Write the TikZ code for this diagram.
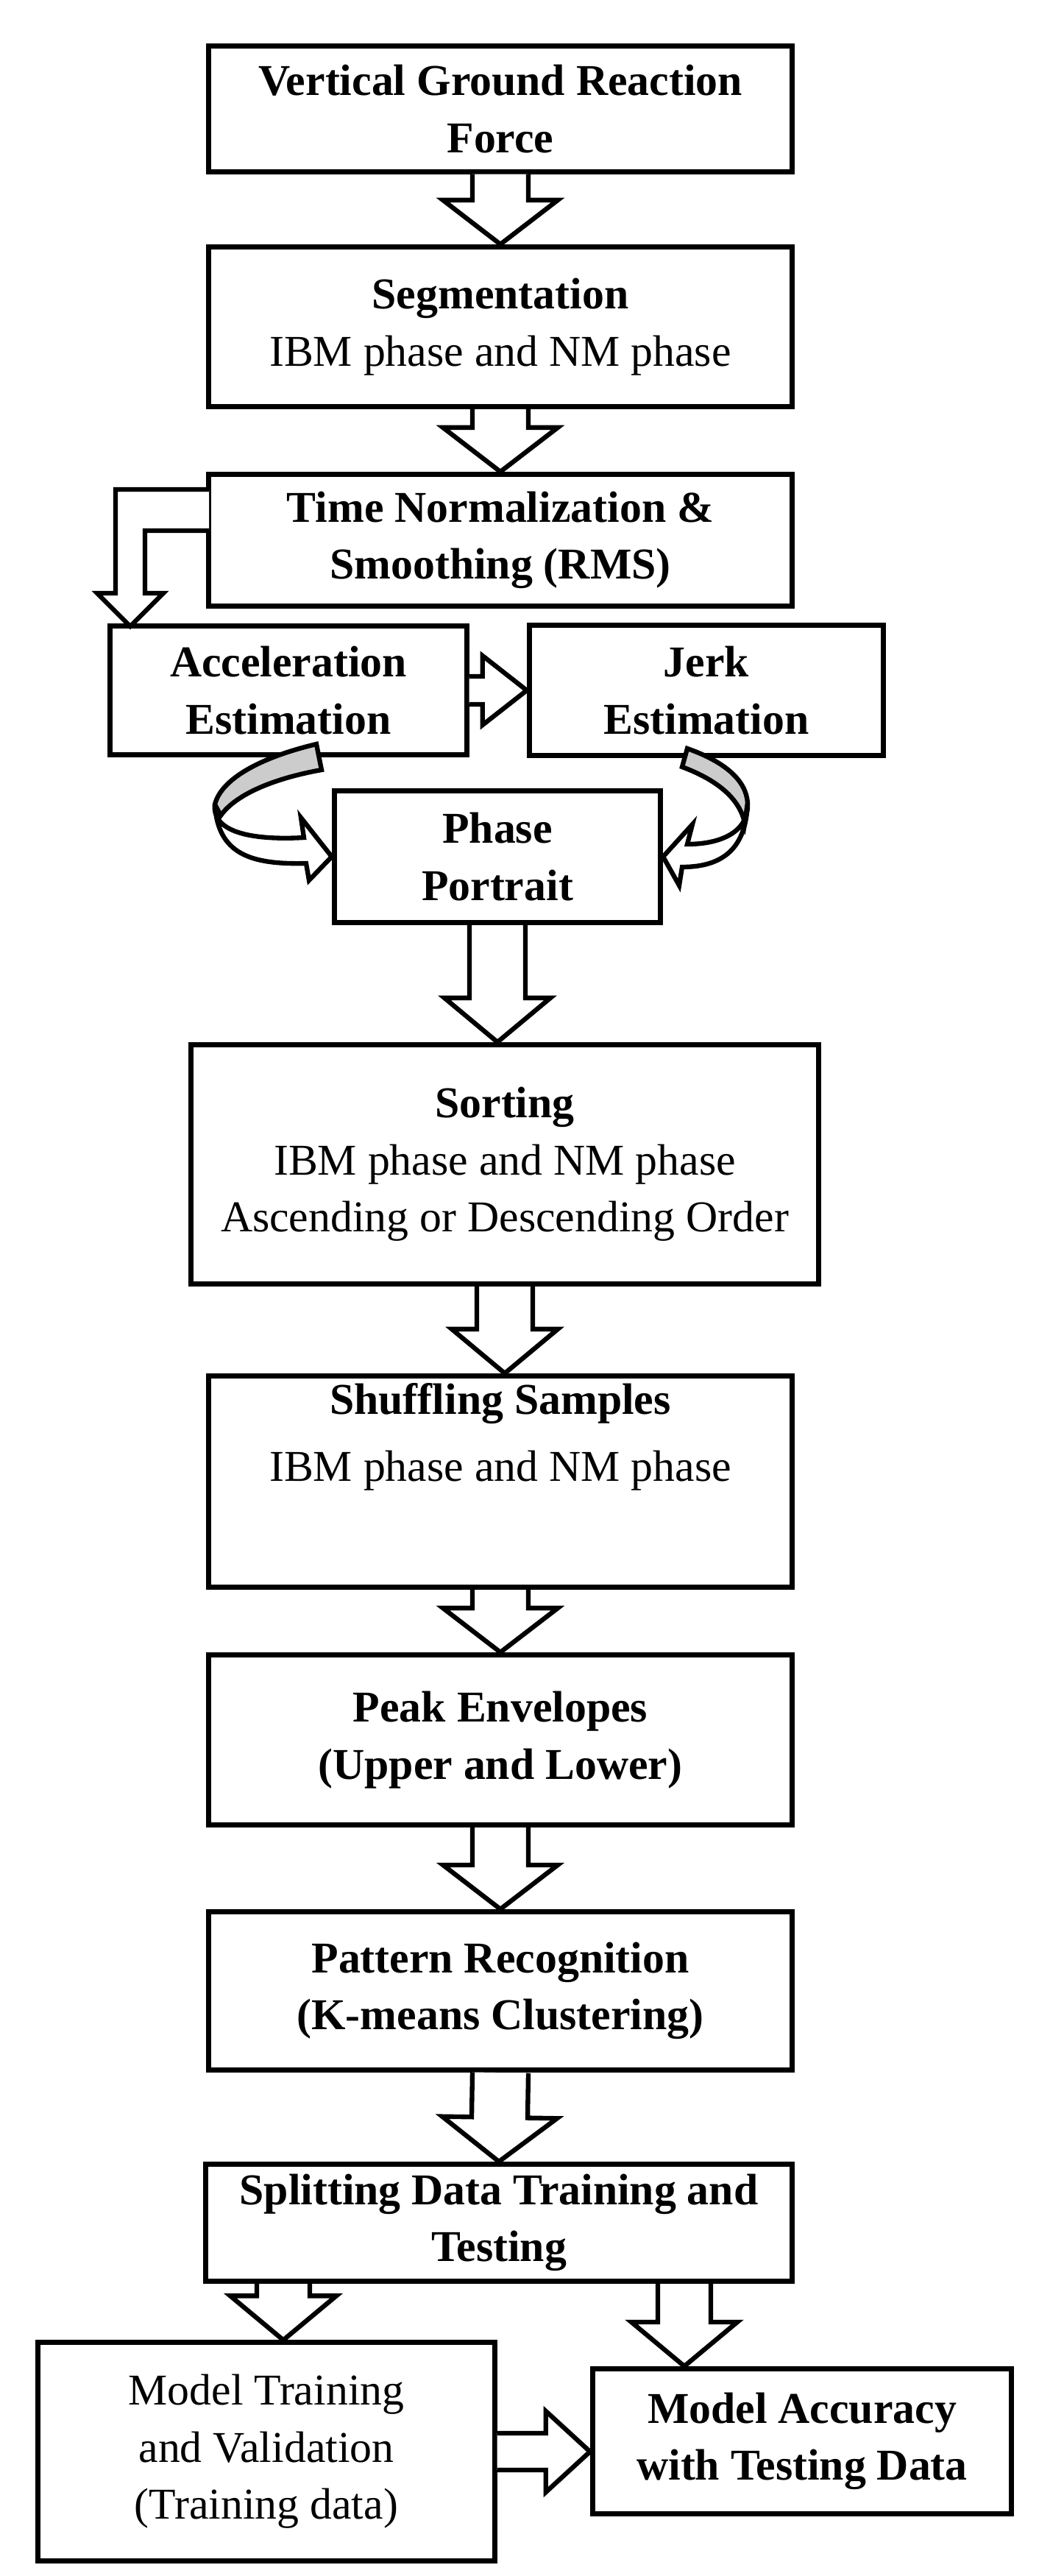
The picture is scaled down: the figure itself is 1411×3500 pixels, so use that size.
\documentclass[tikz,border=0pt]{standalone}
\usepackage{fontspec}
\setmainfont{Liberation Serif}
\usetikzlibrary{calc}
\tikzset{
  box/.style={draw, line width=2pt, fill=white, align=center, inner sep=2pt,
    font=\fontsize{17}{22}\selectfont},
  barrow/.style={draw, line width=1.8pt, fill=white, line join=miter},
}
% hollow block arrow: start, end, shaft half width, head half width
\newcommand\hollowarrow[4]{%
  \path ($#2!0.6cm!#1$) coordinate (ah);
  \draw[barrow] ($#1!#3!90:#2$) -- ($(ah)!#3!-90:#1$) -- ($(ah)!#4!-90:#1$)
    -- #2 -- ($(ah)!#4!90:#1$) -- ($(ah)!#3!90:#1$) -- ($#1!#3!-90:#2$);
}
\begin{document}
\begin{tikzpicture}[x=0.01cm, y=-0.01cm]
\useasboundingbox (0,0) rectangle (1411,3500);
\node[box, minimum width=7.93cm, minimum height=1.70cm] (vgrf) at (680,148)
  {\textbf{Vertical Ground Reaction}\\\textbf{Force}};
\node[box, minimum width=7.93cm, minimum height=2.17cm] (seg) at (680,444)
  {\textbf{Segmentation}\\IBM phase and NM phase};
\node[box, minimum width=7.93cm, minimum height=1.79cm] (tnorm) at (680,734)
  {\textbf{Time Normalization \&}\\\textbf{Smoothing (RMS)}};
\node[box, minimum width=4.84cm, minimum height=1.75cm] (acc) at (392,938)
  {\textbf{Acceleration}\\\textbf{Estimation}};
\node[box, minimum width=4.81cm, minimum height=1.77cm] (jerk) at (960,938)
  {\textbf{Jerk}\\\textbf{Estimation}};
\node[box, minimum width=4.43cm, minimum height=1.79cm] (phase) at (676,1164)
  {\textbf{Phase}\\\textbf{Portrait}};
\node[box, minimum width=8.53cm, minimum height=3.25cm] (sort) at (686,1582)
  {\textbf{Sorting}\\IBM phase and NM phase\\Ascending or Descending Order};
\node[box, minimum width=7.93cm, minimum height=2.87cm] (shuf) at (680,2013)
  {\textbf{Shuffling Samples}\\[4pt]IBM phase and NM phase\\[16pt]};
\node[box, minimum width=7.93cm, minimum height=2.31cm] (peak) at (680,2364)
  {\textbf{Peak Envelopes}\\\textbf{(Upper and Lower)}};
\node[box, minimum width=7.93cm, minimum height=2.15cm] (patt) at (680,2705)
  {\textbf{Pattern Recognition}\\\textbf{(K-means Clustering)}};
\node[box, minimum width=7.97cm, minimum height=1.59cm] (split) at (678,3020)
  {\textbf{Splitting Data Training and}\\\textbf{Testing}};
\node[box, minimum width=6.20cm, minimum height=2.96cm] (train) at (362,3331)
  {Model Training\\and Validation\\(Training data)};
\node[box, minimum width=5.69cm, minimum height=1.97cm] (accur) at (1090,3317)
  {\textbf{Model Accuracy}\\\textbf{with Testing Data}};

% straight block arrows
\hollowarrow{(vgrf.south)}{(seg.north)}{0.38cm}{0.78cm}
\hollowarrow{(seg.south)}{(tnorm.north)}{0.38cm}{0.78cm}
\hollowarrow{(acc.east)}{(jerk.west)}{0.19cm}{0.47cm}
\hollowarrow{(phase.south)}{(phase.south |- sort.north)}{0.38cm}{0.72cm}
\hollowarrow{(sort.south)}{(sort.south |- shuf.north)}{0.38cm}{0.72cm}
\hollowarrow{(shuf.south)}{(peak.north)}{0.38cm}{0.78cm}
\hollowarrow{(peak.south)}{(patt.north)}{0.38cm}{0.78cm}
\hollowarrow{(patt.south)}{(split.north)}{0.38cm}{0.78cm}
\path (split.south) ++(-293,0) coordinate (s1);
\path (split.south) ++(252,0) coordinate (s2);
\hollowarrow{(s1)}{(s1 |- train.north)}{0.36cm}{0.72cm}
\hollowarrow{(s2)}{(s2 |- accur.north)}{0.36cm}{0.72cm}
\hollowarrow{(train.east)}{(train.east -| accur.west)}{0.25cm}{0.55cm}

% bent arrow to acceleration
\coordinate (ltip) at (177,851);
\draw[barrow] (284,665) -- (157,665) -- (157,806) -- (132,806) -- (ltip)
  -- (222,806) -- (197,806) -- (197,721) -- (284,721);

% curved arrows to phase portrait
\draw[barrow, fill=gray!40] (430,1011) .. controls (350,1030) and (300,1060) .. (292,1093)
  -- (300,1108) .. controls (320,1080) and (370,1058) .. (437,1046) -- cycle;
\draw[barrow] (292,1093) .. controls (288,1130) and (340,1142) .. (413,1138)
  -- (409,1111) -- (phase.west) -- (420,1196) -- (416,1173)
  .. controls (340,1175) and (296,1160) .. (292,1093);
\draw[barrow, fill=gray!40] (934,1017) .. controls (985,1035) and (1014,1060) .. (1016,1091)
  -- (1012,1118) .. controls (1005,1085) and (975,1060) .. (927,1042) -- cycle;
\draw[barrow] (1016,1091) .. controls (1018,1130) and (980,1147) .. (934,1147)
  -- (941,1120) -- (phase.east) -- (923,1203) -- (927,1178)
  .. controls (985,1178) and (1014,1150) .. (1016,1091);
\end{tikzpicture}
\end{document}
